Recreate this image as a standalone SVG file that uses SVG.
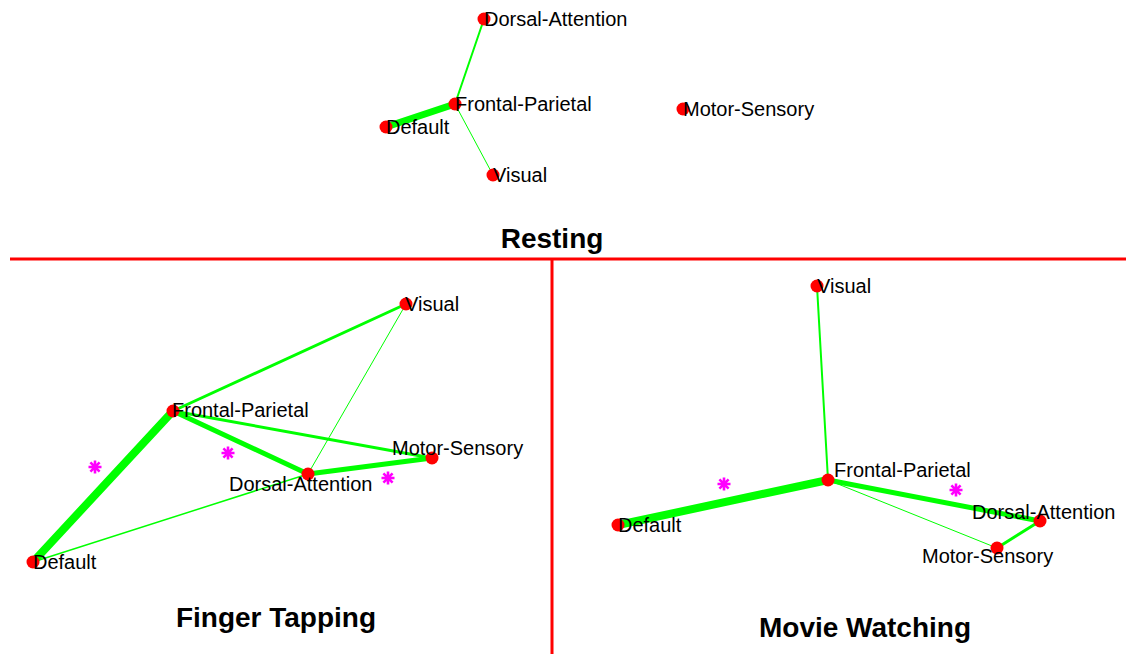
<svg xmlns="http://www.w3.org/2000/svg" width="1126" height="654" viewBox="0 0 1126 654">
<style>
.e{stroke:#00ff00;stroke-linecap:round;fill:none}
.n{fill:#ff0000}
.l{font-family:"Liberation Sans",Arial,sans-serif;font-size:20px;fill:#000}
.t{font-family:"Liberation Sans",Arial,sans-serif;font-size:28px;font-weight:bold;fill:#000;text-anchor:middle}
.d{stroke:#ff0000;stroke-width:3}
.s{stroke:#ff00ff;stroke-width:2.6;fill:none}
</style>
<defs>
<path id="ast" d="M-6.5,0H6.5M0,-6.5V6.5M-4.6,-4.6L4.6,4.6M-4.6,4.6L4.6,-4.6"/>
</defs>
<rect width="1126" height="654" fill="#fff"/>
<g id="dividers">
<line class="d" x1="10" y1="259" x2="1126" y2="259"/>
<line class="d" x1="552" y1="259" x2="552" y2="654"/>
</g>
<g id="connectors">
<!-- Resting -->
<line class="e" style="stroke-width:7" x1="386" y1="127" x2="455" y2="104"/>
<line class="e" style="stroke-width:2" x1="455" y1="104" x2="484" y2="19"/>
<line class="e" style="stroke-width:1" x1="455" y1="104" x2="493" y2="175"/>
<!-- Finger Tapping -->
<line class="e" style="stroke-width:8" x1="173" y1="411" x2="33" y2="562"/>
<line class="e" style="stroke-width:3" x1="173" y1="411" x2="406" y2="304"/>
<line class="e" style="stroke-width:5" x1="173" y1="411" x2="308" y2="474"/>
<line class="e" style="stroke-width:3" x1="173" y1="411" x2="432" y2="458"/>
<line class="e" style="stroke-width:5" x1="308" y1="474" x2="432" y2="458"/>
<line class="e" style="stroke-width:1" x1="406" y1="304" x2="308" y2="474"/>
<line class="e" style="stroke-width:1.5" x1="33" y1="562" x2="308" y2="474"/>
<!-- Movie Watching -->
<line class="e" style="stroke-width:2" x1="817" y1="286" x2="828" y2="480"/>
<line class="e" style="stroke-width:8" x1="828" y1="480" x2="618" y2="525"/>
<line class="e" style="stroke-width:5" x1="828" y1="480" x2="1040" y2="521"/>
<line class="e" style="stroke-width:1" x1="828" y1="480" x2="997" y2="548"/>
<line class="e" style="stroke-width:3" x1="1040" y1="521" x2="997" y2="548"/>
</g>
<g id="markers">
<use class="s" href="#ast" x="95" y="467"/>
<use class="s" href="#ast" x="228" y="453"/>
<use class="s" href="#ast" x="388" y="478"/>
<use class="s" href="#ast" x="724" y="484"/>
<use class="s" href="#ast" x="956" y="490"/>
</g>
<g id="resting">
<g id="r-dorsal"><circle class="n" cx="484" cy="19" r="6.5"/><text class="l" x="484" y="26">Dorsal-Attention</text></g>
<g id="r-frontal"><circle class="n" cx="455" cy="104" r="6.5"/><text class="l" x="455" y="111">Frontal-Parietal</text></g>
<g id="r-default"><circle class="n" cx="386" cy="127" r="6.5"/><text class="l" x="386" y="134">Default</text></g>
<g id="r-visual"><circle class="n" cx="493" cy="175" r="6.5"/><text class="l" x="493" y="182">Visual</text></g>
<g id="r-motor"><circle class="n" cx="683" cy="109" r="6.5"/><text class="l" x="683" y="116">Motor-Sensory</text></g>
<text class="t" x="552" y="248">Resting</text>
</g>
<g id="finger">
<g id="f-visual"><circle class="n" cx="406" cy="304" r="6.5"/><text class="l" x="405" y="311">Visual</text></g>
<g id="f-frontal"><circle class="n" cx="173" cy="411" r="6.5"/><text class="l" x="172" y="417">Frontal-Parietal</text></g>
<g id="f-motor"><circle class="n" cx="432" cy="458" r="6.5"/><text class="l" x="392" y="455">Motor-Sensory</text></g>
<g id="f-dorsal"><circle class="n" cx="308" cy="474" r="6.5"/><text class="l" x="229" y="491">Dorsal-Attention</text></g>
<g id="f-default"><circle class="n" cx="33" cy="562" r="6.5"/><text class="l" x="33" y="569">Default</text></g>
<text class="t" x="276" y="627">Finger Tapping</text>
</g>
<g id="movie">
<g id="m-visual"><circle class="n" cx="817" cy="286" r="6.5"/><text class="l" x="817" y="293">Visual</text></g>
<g id="m-frontal"><circle class="n" cx="828" cy="480" r="6.5"/><text class="l" x="834" y="477">Frontal-Parietal</text></g>
<g id="m-default"><circle class="n" cx="618" cy="525" r="6.5"/><text class="l" x="618" y="532">Default</text></g>
<g id="m-dorsal"><circle class="n" cx="1040" cy="521" r="6.5"/><text class="l" x="972" y="519">Dorsal-Attention</text></g>
<g id="m-motor"><circle class="n" cx="997" cy="548" r="6.5"/><text class="l" x="922" y="563">Motor-Sensory</text></g>
<text class="t" x="865" y="637">Movie Watching</text>
</g>
</svg>
